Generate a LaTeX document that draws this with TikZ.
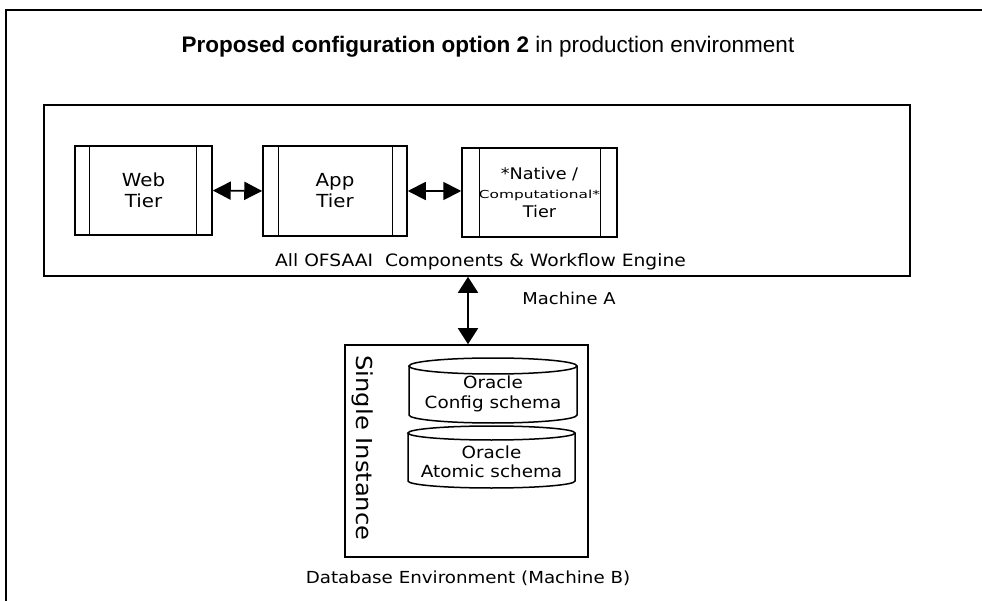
\documentclass[tikz,border=0pt]{standalone}
\usepackage{fontspec}
\setmainfont{Liberation Sans}
\newfontfamily\px[FakeStretch=1.1]{DejaVu Sans}
\newfontfamily\pxw[FakeStretch=1.4]{DejaVu Sans}
\usetikzlibrary{arrows.meta}
\begin{document}
\begin{tikzpicture}[x=1pt,y=-1pt,
  box/.style={draw, line width=1.6pt, inner sep=0pt},
  tier/.style={draw, line width=1.5pt, inner sep=0pt, align=center,
    font=\px\fontsize{18}{21}\selectfont},
  inner/.style={line width=1.3pt},
  lbl/.style={inner sep=0pt, align=center, font=\px\fontsize{17}{20}\selectfont},
  cyl/.style={line width=1.5pt},
  biarrow/.style={{Triangle[length=18pt,width=18pt]}-{Triangle[length=18pt,width=18pt]}, line width=1.8pt},
  varrow/.style={{Triangle[length=16pt,width=20pt]}-{Triangle[length=16pt,width=20pt]}, line width=1.8pt}
]
\useasboundingbox (0,0) rectangle (982,601);
% outer frame (cut by the page)
\coordinate (frameBL) at (6,603);
\coordinate (frameTR) at (984,10);
\draw[line width=2.2pt] (frameBL) |- (frameTR);

% title
\node[inner sep=0pt] (title) at (488,47) {\fontsize{22.5}{26}\selectfont\textbf{Proposed configuration option 2} in production environment};

% machine A
\node[box, minimum width=866pt, minimum height=171pt] (main) at (477,190.5) {};

\node[tier, minimum width=137pt, minimum height=89pt] (web) at (143.5,190.5) {Web\\Tier};
\draw[inner] ([xshift=15pt]web.north west) -- ([xshift=15pt]web.south west);
\draw[inner] ([xshift=-16pt]web.north east) -- ([xshift=-16pt]web.south east);

\node[tier, minimum width=144pt, minimum height=90pt] (app) at (335,191) {App\\Tier};
\draw[inner] ([xshift=16pt]app.north west) -- ([xshift=16pt]app.south west);
\draw[inner] ([xshift=-15pt]app.north east) -- ([xshift=-15pt]app.south east);

\node[tier, minimum width=155pt, minimum height=89pt, font=\px\fontsize{16}{19}\selectfont] (native) at (539.5,192.5)
  {*Native /\\{\pxw\fontsize{11}{19}\selectfont Computational*}\\Tier};
\draw[inner] ([xshift=18pt]native.north west) -- ([xshift=18pt]native.south west);
\draw[inner] ([xshift=-17pt]native.north east) -- ([xshift=-17pt]native.south east);

\draw[biarrow] (web.east) -- (app.west);
\draw[biarrow] (app.east) -- (app.east -| native.west);

\node[lbl] (comp) at (480.5,262) {All OFSAAI\ \ Components \& Workflow Engine};
\node[lbl, font=\px\fontsize{16.3}{20}\selectfont] (macha) at (569,298) {Machine A};

% database
\node[box, minimum width=243pt, minimum height=212pt] (db) at (466.5,451) {};
\draw[varrow] ([xshift=1.5pt]db.north |- main.south) -- ([xshift=1.5pt]db.north);

\node[lbl, rotate=-90, font=\px\fontsize{22}{24}\selectfont] (single) at (363,448) {Single Instance};

\draw[cyl] (409,366) -- (409,415) arc[start angle=180, end angle=360, x radius=84pt, y radius=8pt] -- (577,366);
\draw[cyl] (493,366) ellipse[x radius=84pt, y radius=8pt];
\node[lbl, font=\px\fontsize{16.7}{20}\selectfont] (cfg) at (493,394) {Oracle\\Config schema};

\draw[cyl] (408,433) -- (408,481) arc[start angle=180, end angle=360, x radius=83.5pt, y radius=7pt] -- (575,433);
\draw[cyl] (491.5,433) ellipse[x radius=83.5pt, y radius=7pt];
\node[lbl, font=\px\fontsize{16.7}{19}\selectfont] (atomic) at (491.5,462) {Oracle\\Atomic schema};

\node[lbl, font=\px\fontsize{16.6}{20}\selectfont] (dblbl) at (468,578) {Database Environment (Machine B)};
\end{tikzpicture}
\end{document}
